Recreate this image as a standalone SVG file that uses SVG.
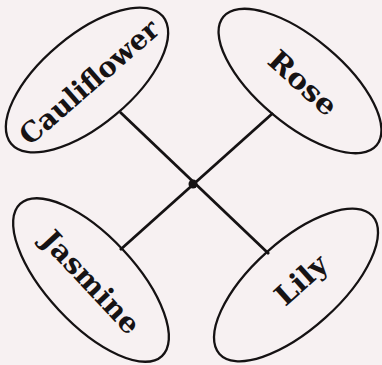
<svg xmlns="http://www.w3.org/2000/svg" width="382" height="365" viewBox="0 0 382 365">
<style>
.bg{fill:#f7f1f2}
.node ellipse{fill:none;stroke:#151213;stroke-width:2.3}
.node text{font-family:"DejaVu Serif","Liberation Serif",serif;font-weight:bold;font-size:28px;fill:#161314;text-anchor:middle}
.conn line{stroke:#151213;stroke-width:2.8}
</style>
<rect class="bg" x="0" y="0" width="382" height="365"/>
<g id="connectors" class="conn">
<line x1="120" y1="112" x2="269" y2="254"/>
<line x1="273" y1="113" x2="120" y2="250"/>
<circle cx="193" cy="184" r="4.5" fill="#151213"/>
</g>
<g id="cauliflower" class="node">
<ellipse cx="87" cy="80" rx="99" ry="45" transform="rotate(-40 87 80)"/>
<text x="89" y="82" dy="0.35em" textLength="174" lengthAdjust="spacingAndGlyphs" transform="rotate(-41 89 82)">Cauliflower</text>
</g>
<g id="rose" class="node">
<ellipse cx="300" cy="81" rx="100" ry="43" transform="rotate(40 300 81)"/>
<text x="303" y="83" dy="0.35em" textLength="82" lengthAdjust="spacingAndGlyphs" transform="rotate(42 303 83)">Rose</text>
</g>
<g id="jasmine" class="node">
<ellipse cx="91" cy="280" rx="104" ry="44" transform="rotate(47 91 280)"/>
<text x="91" y="282" dy="0.35em" textLength="130" lengthAdjust="spacingAndGlyphs" transform="rotate(47 91 282)">Jasmine</text>
</g>
<g id="lily" class="node">
<ellipse cx="296" cy="285" rx="103" ry="44" transform="rotate(-42 296 285)"/>
<text x="301" y="280" dy="0.35em" textLength="60" lengthAdjust="spacingAndGlyphs" transform="rotate(-42 301 280)">Lily</text>
</g>
</svg>
